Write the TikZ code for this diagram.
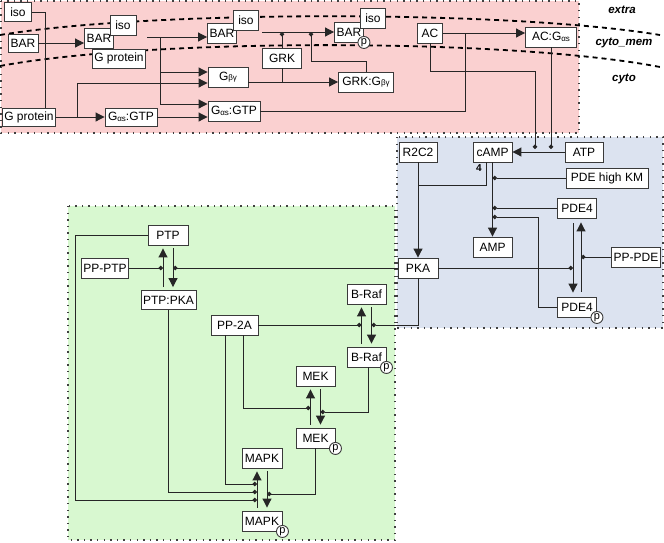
\documentclass[tikz,border=0pt]{standalone}
\usepackage{fontspec}
\setmainfont{Liberation Sans}
\usepackage{tikz}
\usetikzlibrary{arrows.meta, calc}
\definecolor{extpink}{HTML}{FAD0D0}
\definecolor{cytblue}{HTML}{DCE3F0}
\definecolor{nucgreen}{HTML}{D8F8D0}
\definecolor{boxline}{HTML}{3A3A3A}
\newcommand{\gsub}[1]{\raisebox{-0.5pt}{\fontsize{8}{8}\selectfont #1}}
\tikzset{
    species/.style={draw=boxline, fill=white, line width=0.9pt, inner sep=2pt, minimum width=39pt, minimum height=20pt, font=\fontsize{12}{14}\selectfont},
    phos/.style={draw=boxline, fill=white, circle, line width=0.9pt, inner sep=0pt, minimum size=12pt, font=\fontsize{11}{11}\selectfont},
    reac/.style={-{Triangle[length=9pt, width=9pt]}, line width=1pt, black!85},
    modif/.style={-{Circle[length=4.5pt]}, line width=1pt, black!85},
    link/.style={line width=1pt, black!85},
    compartment/.style={draw=black!75, line width=1.4pt, dash pattern=on 1.4pt off 5.2pt},
    membrane/.style={line width=1.8pt, dash pattern=on 5pt off 4pt},
    cmptname/.style={font=\fontsize{11.5}{12}\selectfont\bfseries\itshape}
}

\begin{document}
\begin{tikzpicture}[x=1pt, y=-1pt]
    \useasboundingbox (0,0) rectangle (664,542);
    \draw[compartment, fill=extpink] (1,1) rectangle (579,133);
    \draw[compartment, fill=nucgreen] (68,206) rectangle (395,540);
    \draw[compartment, fill=cytblue] (397,137) rectangle (663,328);

    \draw[membrane] (0,35) .. controls (150,10) and (510,10) .. (660,35);
    \draw[membrane] (0,66) .. controls (150,38) and (510,38) .. (660,67);
    \node[cmptname] (extra) at (622,10) {extra};
    \node[cmptname] (cytomem) at (624,43) {cyto\_mem};
    \node[cmptname] (cyto) at (624,79) {cyto};

    \node[species, minimum width=27pt, minimum height=19pt] (iso1) at (18,12) {iso};
    \node[species, minimum width=30pt, minimum height=18pt] (bar1) at (23,43) {BAR};
    \node[species, minimum width=53pt, minimum height=18pt] (gprot1) at (29,117) {G protein};
    \node[species, minimum width=29pt] (bar2) at (99,38) {BAR};
    \node[species, minimum width=52pt, minimum height=19pt] (gprot2) at (119,58.5) {G protein};
    \node[species, minimum width=26pt] (iso2) at (123,25) {iso};
    \node[species, minimum width=29pt] (bar3) at (222,33) {BAR};
    \node[species, minimum width=25pt] (iso3) at (246,20) {iso};
    \node[species, minimum width=29pt] (bar4) at (349,32) {BAR};
    \node[species, minimum width=25pt] (iso4) at (373,18) {iso};
    \node[phos] (bar4p) at (bar4.south east) {p};
    \node[species] (grk) at (282,58) {GRK};
    \node[species, minimum width=40pt] (gbg) at (228,77) {G\gsub{βγ}};
    \node[species, minimum width=52pt, minimum height=18pt] (gasgtp1) at (131,117) {G\gsub{αs}:GTP};
    \node[species, minimum width=52pt] (gasgtp2) at (234,111) {G\gsub{αs}:GTP};
    \node[species, minimum width=55pt] (grkgbg) at (366,82) {GRK:G\gsub{βγ}};
    \node[species, minimum width=25pt] (ac) at (430,33) {AC};
    \node[species, minimum width=51pt] (acgas) at (551,37) {AC:G\gsub{αs}};

    \node[species, minimum width=38pt] (r2c2) at (418,152) {R2C2};
    \node[species] (camp) at (492.5,152) {cAMP};
    \node[species, minimum width=38pt] (atp) at (584,152) {ATP};
    \node[species, minimum width=82pt] (pdehigh) at (607,178) {PDE high KM};
    \node[species] (pde4) at (577,208) {PDE4};
    \node[species] (amp) at (492.5,247) {AMP};
    \node[species, minimum width=46pt] (ppde) at (636,257) {PP-PDE};
    \node[species, minimum width=40pt] (pka) at (418,268) {PKA};
    \node[species] (pde4p) at (577,307) {PDE4};
    \node[phos] (pde4pp) at (pde4p.south east) {p};
    \node[font=\fontsize{10}{10}\selectfont\bfseries] (four) at (479,168) {4};

    \node[species, minimum width=40pt] (ptp) at (168,235) {PTP};
    \node[species, minimum width=47pt] (pptp) at (105,268) {PP-PTP};
    \node[species, minimum width=55pt, minimum height=19pt] (ptppka) at (168.5,300) {PTP:PKA};
    \node[species, minimum width=47pt] (pp2a) at (234.5,325) {PP-2A};
    \node[species] (braf) at (366.5,294) {B-Raf};
    \node[species] (brafp) at (366.5,357) {B-Raf};
    \node[phos] (brafpp) at (brafp.south east) {p};
    \node[species] (mek) at (315.5,376) {MEK};
    \node[species] (mekp) at (315.5,438) {MEK};
    \node[phos] (mekpp) at (mekp.south east) {p};
    \node[species, minimum width=40pt] (mapk) at (262,458) {MAPK};
    \node[species, minimum width=40pt] (mapkp) at (262,521) {MAPK};
    \node[phos] (mapkpp) at (mapkp.south east) {p};

    \coordinate (cplx1) at (147,37);
    \coordinate (rx1) at (160,37);
    \coordinate (rx2) at (77,117);
    \coordinate (cplx2) at (262,32);
    \coordinate (ptpup) at ([xshift=-5pt]ptp.center);
    \coordinate (ptpdn) at ([xshift=5pt]ptp.center);
    \coordinate (brafup) at ([xshift=-5pt]braf.center);
    \coordinate (brafdn) at ([xshift=5pt]braf.center);
    \coordinate (mekup) at ([xshift=-5pt]mek.center);
    \coordinate (mekdn) at ([xshift=5pt]mek.center);
    \coordinate (mapkup) at ([xshift=-5pt]mapk.center);
    \coordinate (mapkdn) at ([xshift=5pt]mapk.center);
    \coordinate (pdedn) at ([xshift=-4pt]pde4.center);
    \coordinate (pdeup) at ([xshift=4pt]pde4.center);

    \draw[link] (iso1.east) -| ([xshift=16pt]gprot1.north);
    \draw[reac] (bar1.east) -- (bar1.east -| bar2.west);
    \draw[reac] (cplx1) -- (cplx1 -| bar3.west);
    \draw[reac] (rx1) |- (gbg.west |- 0,72);
    \draw[reac] (rx1) |- (gasgtp2.west |- 0,104);
    \draw[reac] (gprot1.east) -- (gasgtp1.west);
    \draw[reac] (rx2) |- (gbg.west |- 0,83);
    \draw[reac] (gasgtp1.east) -- (gasgtp1.east -| gasgtp2.west);
    \draw[reac] (cplx2) -- (cplx2 -| bar4.west);
    \draw[modif] (grk.north) -- (grk.north |- cplx2);
    \draw[modif] (grkgbg.north) |- (311,61) -- (311,32);
    \draw[reac] (gbg.east |- grkgbg) -- (grkgbg.west);
    \draw[link] (grk.south) -- (grk.south |- grkgbg);
    \draw[reac] (ac.east) -- (ac.east -| acgas.west);
    \draw[link] (gasgtp2.east) -| (465,33);
    \draw[modif, shorten >=3pt] (ac.south) |- (535,71) -- (535,152);
    \draw[modif, shorten >=3pt] (acgas.south) -- (acgas.south |- atp.west);

    \draw[reac] (atp.west) -- (camp.east);
    \draw[reac] (r2c2.south) -- (pka.north);
    \draw[link] ([xshift=-6.5pt]camp.south) |- (r2c2.south |- 0,185);
    \draw[reac] (camp.south) -- (amp.north);
    \draw[modif] (pdehigh.west) -- (pdehigh.west -| camp);
    \draw[modif] (pde4.west) -- (pde4.west -| camp);
    \draw[modif] (pde4p.west) -| (538,217) -- (camp |- 0,217);
    \draw[reac, shorten <=5pt, shorten >=4pt] (pde4.south -| pdedn) -- (pde4p.north -| pdedn);
    \draw[reac, shorten <=5pt, shorten >=4pt] (pde4p.north -| pdeup) -- (pde4.south -| pdeup);
    \draw[modif] (pka.east) -- (pka.east -| pdedn);
    \draw[modif] (ppde.west) -- (ppde.west -| pdeup);

    \draw[reac, shorten <=3pt, shorten >=3pt] (ptppka.north -| ptpup) -- (ptp.south -| ptpup);
    \draw[reac, shorten <=3pt, shorten >=3pt] (ptp.south -| ptpdn) -- (ptppka.north -| ptpdn);
    \draw[reac, shorten <=3pt, shorten >=3pt] (brafp.north -| brafup) -- (braf.south -| brafup);
    \draw[reac, shorten <=3pt, shorten >=3pt] (braf.south -| brafdn) -- (brafp.north -| brafdn);
    \draw[reac, shorten <=3pt, shorten >=3pt] (mekp.north -| mekup) -- (mek.south -| mekup);
    \draw[reac, shorten <=3pt, shorten >=3pt] (mek.south -| mekdn) -- (mekp.north -| mekdn);
    \draw[reac, shorten <=3pt, shorten >=3pt] (mapkp.north -| mapkup) -- (mapk.south -| mapkup);
    \draw[reac, shorten <=3pt, shorten >=3pt] (mapk.south -| mapkdn) -- (mapkp.north -| mapkdn);
    \draw[modif] (pptp.east) -- (pptp.east -| ptpup);
    \draw[modif] (pka.west) -- (pka.west -| ptpdn);
    \draw[modif] (pka.south) |- (pp2a.east -| brafdn);
    \draw[modif] (pp2a.east) -- (pp2a.east -| brafup);
    \draw[modif] ([xshift=-9.5pt]pp2a.south) |- (mapkup |- 0,484);
    \draw[modif] ([xshift=8.5pt]pp2a.south) |- (mekup |- 0,408);
    \draw[modif] ([xshift=1.5pt]brafp.south) |- (mekdn |- 0,412);
    \draw[modif] (mekp.south) |- (mapkdn |- 0,494);
    \draw[modif] (ptppka.south) |- (mapkup |- 0,492);
    \draw[modif] (ptp.west) -| (75,500) -- (mapkup |- 0,500);
\end{tikzpicture}
\end{document}
